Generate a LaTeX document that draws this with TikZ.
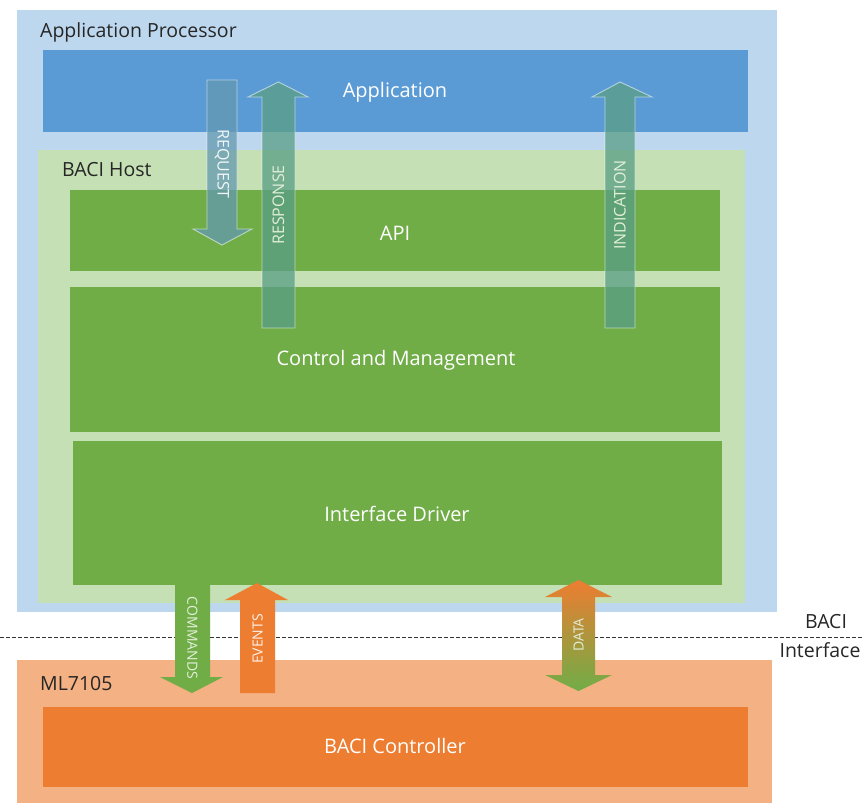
\documentclass[tikz,border=0pt]{standalone}
\usepackage{fontspec}
\setmainfont{Open Sans}
\definecolor{apbg}{HTML}{BDD7EE}
\definecolor{appblue}{HTML}{5B9BD5}
\definecolor{hostbg}{HTML}{C5E0B4}
\definecolor{hostgreen}{HTML}{70AD47}
\definecolor{mlbg}{HTML}{F4B183}
\definecolor{ctrlorange}{HTML}{ED7D31}
\definecolor{reqcol}{HTML}{6399B0}
\definecolor{respcol}{HTML}{5A9E86}
\definecolor{lbl}{HTML}{E2EFDA}
\begin{document}
\begin{tikzpicture}[x=1pt,y=-1pt,
  panel/.style={draw=none, anchor=north west, inner sep=0pt, outer sep=0pt},
  title/.style={anchor=west, inner sep=0pt, font=\fontsize{19.5}{23}\selectfont, text=black!85},
  inner/.style={inner sep=0pt, font=\fontsize{20}{24}\selectfont, text=white},
  ghostarrow/.style={fill opacity=0.75, draw=white, draw opacity=0.55, line width=0.9pt},
  arrlabel/.style={inner sep=0pt, font=\fontsize{16}{19}\selectfont},
  lowlabel/.style={inner sep=0pt, font=\fontsize{14}{17}\selectfont},
]
\useasboundingbox (0,0) rectangle (864,805);
\fill[white] (0,0) rectangle (864,805);

% Application processor
\node[panel, fill=apbg, minimum width=760pt, minimum height=602pt] (ap) at (17,10) {};
\node[title] (aptitle) at (40,32) {Application Processor};
\node[panel, fill=appblue, minimum width=705pt, minimum height=82pt] (app) at (43,50) {};
\node[inner] (applbl) at (395,92) {Application};

% BACI host
\node[panel, fill=hostbg, minimum width=707pt, minimum height=453pt] (host) at (38,150) {};
\node[title] (hosttitle) at (62,170) {BACI Host};
\node[panel, fill=hostgreen, minimum width=650pt, minimum height=81pt] (api) at (70,190) {};
\node[inner] (apilbl) at (395,233) {API};
\node[panel, fill=hostgreen, minimum width=650pt, minimum height=145pt] (cm) at (70,287) {};
\node[inner] (cmlbl) at (396,360) {Control and Management};
\node[panel, fill=hostgreen, minimum width=649pt, minimum height=144pt] (ifd) at (73,441) {};
\node[inner] (ifdlbl) at (397,514) {Interface Driver};

% ML7105
\node[panel, fill=mlbg, minimum width=755pt, minimum height=143pt] (ml) at (17,660) {};
\node[title] (mltitle) at (40,684) {ML7105};
\node[panel, fill=ctrlorange, minimum width=705pt, minimum height=80pt] (ctrl) at (43,707) {};
\node[inner] (ctrllbl) at (395,746) {BACI Controller};

% interface line
\coordinate (dl) at (0,637);
\coordinate (dr) at (864,637);
\draw[black!80, dashed, dash pattern=on 4pt off 2pt, line width=0.8pt] (dl) -- (dr);
\node[title, anchor=center] (baci) at (826,622) {BACI};
\node[title, anchor=center] (iface) at (820,650) {Interface};

% upper arrows
\path[ghostarrow, fill=reqcol] (207,80) -- (237,80) -- (237,229) -- (252,229) -- (222,245) -- (193,229) -- (207,229) -- cycle;
\node[arrlabel, rotate=-90, text=white!92!reqcol] (req) at (222,164) {REQUEST};
\path[ghostarrow, fill=respcol] (262,328) -- (295,328) -- (295,97) -- (308,97) -- (278.5,82) -- (248,97) -- (262,97) -- cycle;
\node[arrlabel, rotate=90, text=lbl] (resp) at (278.5,205) {RESPONSE};
\path[ghostarrow, fill=respcol] (605,328) -- (635,328) -- (635,97) -- (652,97) -- (620,82) -- (592,97) -- (605,97) -- cycle;
\node[arrlabel, rotate=90, text=lbl] (ind) at (620,205) {INDICATION};

% lower arrows
\path[fill=hostgreen] (175,583) -- (210,583) -- (210,677) -- (223,677) -- (192,693) -- (160,677) -- (175,677) -- cycle;
\node[lowlabel, rotate=-90, text=lbl] (cmd) at (192.5,638) {COMMANDS};
\path[fill=ctrlorange] (240,693) -- (275,693) -- (275,600) -- (288,600) -- (257,583) -- (225,600) -- (240,600) -- cycle;
\node[lowlabel, rotate=90, text=white!90!ctrlorange] (evt) at (257.5,639) {EVENTS};
\shade[top color=ctrlorange, bottom color=hostgreen, middle color=ctrlorange!50!hostgreen]
  (562,597) -- (545,597) -- (578.5,580) -- (612,597) -- (595,597) -- (595,675) -- (612,675) -- (578.5,691) -- (545,675) -- (562,675) -- cycle;
\node[lowlabel, rotate=90, text=lbl] (data) at (578.5,635) {DATA};
\end{tikzpicture}
\end{document}
